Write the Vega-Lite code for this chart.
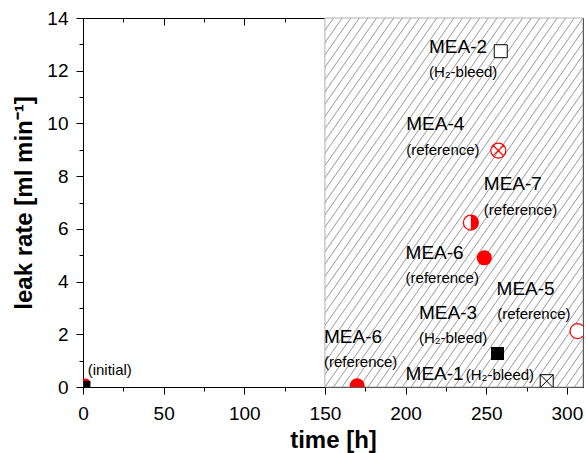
{
  "$schema": "https://vega.github.io/schema/vega-lite/v6.json",
  "width": 500,
  "height": 369,
  "autosize": {"type": "none"},
  "padding": {"left": 83, "top": 18, "right": 3, "bottom": 66},
  "background": "white",
  "config": {
    "view": {"stroke": null},
    "font": "Liberation Sans",
    "axis": {
      "grid": false, "domainColor": "black", "tickColor": "black", "labelColor": "black", "titleColor": "black",
      "labelFont": "Liberation Sans", "titleFont": "Liberation Sans", "labelFontSize": 19, "titleFontSize": 24,
      "titleFontWeight": "bold", "labelFlush": false, "tickWidth": 1, "domainWidth": 1, "zindex": 1, "labelOverlap": false
    }
  },
  "datasets": {
    "points": [
      {"sample": "MEA-6", "phase": "initial", "time": 1.5, "leak": 0.13},
      {"sample": "MEA-3", "phase": "initial", "time": 2.4, "leak": 0.1},
      {"sample": "MEA-6", "phase": "test", "time": 170, "leak": 0.05},
      {"sample": "MEA-1", "phase": "test", "time": 287.5, "leak": 0.22},
      {"sample": "MEA-3", "phase": "test", "time": 257, "leak": 1.27},
      {"sample": "MEA-5", "phase": "test", "time": 306.6, "leak": 2.12},
      {"sample": "MEA-6", "phase": "test", "time": 248.8, "leak": 4.9},
      {"sample": "MEA-7", "phase": "test", "time": 240.5, "leak": 6.24},
      {"sample": "MEA-4", "phase": "test", "time": 257.5, "leak": 8.97},
      {"sample": "MEA-2", "phase": "test", "time": 259, "leak": 12.74}
    ],
    "labels": [
      {"text": "MEA-2", "kind": "name", "time": 214.5, "leak": 12.9},
      {"text": "(H₂-bleed)", "kind": "note", "time": 214.5, "leak": 11.94},
      {"text": "MEA-4", "kind": "name", "time": 200.4, "leak": 9.97},
      {"text": "(reference)", "kind": "note", "time": 200.4, "leak": 9.0},
      {"text": "MEA-7", "kind": "name", "time": 248.5, "leak": 7.72},
      {"text": "(reference)", "kind": "note", "time": 248.5, "leak": 6.7},
      {"text": "MEA-6", "kind": "name", "time": 200, "leak": 5.1},
      {"text": "(reference)", "kind": "note", "time": 200, "leak": 4.14},
      {"text": "MEA-5", "kind": "name", "time": 256.4, "leak": 3.72},
      {"text": "(reference)", "kind": "note", "time": 256.8, "leak": 2.78},
      {"text": "MEA-3", "kind": "name", "time": 208.3, "leak": 2.8},
      {"text": "(H₂-bleed)", "kind": "note", "time": 208.3, "leak": 1.85},
      {"text": "MEA-1", "kind": "name", "time": 200, "leak": 0.48},
      {"text": "(H₂-bleed)", "kind": "note", "time": 237.3, "leak": 0.45},
      {"text": "MEA-6", "kind": "name", "time": 149.4, "leak": 1.89},
      {"text": "(reference)", "kind": "note", "time": 149.4, "leak": 0.96},
      {"text": "(initial)", "kind": "note", "time": 2.9, "leak": 0.64}
    ]
  },
  "layer": [
    {
      "data": {"values": [{"start": 150, "end": 310}]},
      "mark": {
        "type": "rect", "stroke": "#b0b0b0", "strokeWidth": 1,
        "fill": {
          "gradient": "linear", "x1": 0, "y1": 0, "x2": 1, "y2": 1,
          "stops": [
            {"offset": 0, "color": "#ffffff"},
            {"offset": 0.0147, "color": "#ffffff"}, {"offset": 0.0167, "color": "#9a9a9a"}, {"offset": 0.0187, "color": "#ffffff"},
            {"offset": 0.0313, "color": "#ffffff"}, {"offset": 0.0333, "color": "#9a9a9a"}, {"offset": 0.0353, "color": "#ffffff"},
            {"offset": 0.048, "color": "#ffffff"}, {"offset": 0.05, "color": "#9a9a9a"}, {"offset": 0.052, "color": "#ffffff"},
            {"offset": 0.0647, "color": "#ffffff"}, {"offset": 0.0667, "color": "#9a9a9a"}, {"offset": 0.0687, "color": "#ffffff"},
            {"offset": 0.0813, "color": "#ffffff"}, {"offset": 0.0833, "color": "#9a9a9a"}, {"offset": 0.0853, "color": "#ffffff"},
            {"offset": 0.098, "color": "#ffffff"}, {"offset": 0.1, "color": "#9a9a9a"}, {"offset": 0.102, "color": "#ffffff"},
            {"offset": 0.1147, "color": "#ffffff"}, {"offset": 0.1167, "color": "#9a9a9a"}, {"offset": 0.1187, "color": "#ffffff"},
            {"offset": 0.1313, "color": "#ffffff"}, {"offset": 0.1333, "color": "#9a9a9a"}, {"offset": 0.1353, "color": "#ffffff"},
            {"offset": 0.148, "color": "#ffffff"}, {"offset": 0.15, "color": "#9a9a9a"}, {"offset": 0.152, "color": "#ffffff"},
            {"offset": 0.1647, "color": "#ffffff"}, {"offset": 0.1667, "color": "#9a9a9a"}, {"offset": 0.1687, "color": "#ffffff"},
            {"offset": 0.1813, "color": "#ffffff"}, {"offset": 0.1833, "color": "#9a9a9a"}, {"offset": 0.1853, "color": "#ffffff"},
            {"offset": 0.198, "color": "#ffffff"}, {"offset": 0.2, "color": "#9a9a9a"}, {"offset": 0.202, "color": "#ffffff"},
            {"offset": 0.2147, "color": "#ffffff"}, {"offset": 0.2167, "color": "#9a9a9a"}, {"offset": 0.2187, "color": "#ffffff"},
            {"offset": 0.2313, "color": "#ffffff"}, {"offset": 0.2333, "color": "#9a9a9a"}, {"offset": 0.2353, "color": "#ffffff"},
            {"offset": 0.248, "color": "#ffffff"}, {"offset": 0.25, "color": "#9a9a9a"}, {"offset": 0.252, "color": "#ffffff"},
            {"offset": 0.2647, "color": "#ffffff"}, {"offset": 0.2667, "color": "#9a9a9a"}, {"offset": 0.2687, "color": "#ffffff"},
            {"offset": 0.2813, "color": "#ffffff"}, {"offset": 0.2833, "color": "#9a9a9a"}, {"offset": 0.2853, "color": "#ffffff"},
            {"offset": 0.298, "color": "#ffffff"}, {"offset": 0.3, "color": "#9a9a9a"}, {"offset": 0.302, "color": "#ffffff"},
            {"offset": 0.3147, "color": "#ffffff"}, {"offset": 0.3167, "color": "#9a9a9a"}, {"offset": 0.3187, "color": "#ffffff"},
            {"offset": 0.3313, "color": "#ffffff"}, {"offset": 0.3333, "color": "#9a9a9a"}, {"offset": 0.3353, "color": "#ffffff"},
            {"offset": 0.348, "color": "#ffffff"}, {"offset": 0.35, "color": "#9a9a9a"}, {"offset": 0.352, "color": "#ffffff"},
            {"offset": 0.3647, "color": "#ffffff"}, {"offset": 0.3667, "color": "#9a9a9a"}, {"offset": 0.3687, "color": "#ffffff"},
            {"offset": 0.3813, "color": "#ffffff"}, {"offset": 0.3833, "color": "#9a9a9a"}, {"offset": 0.3853, "color": "#ffffff"},
            {"offset": 0.398, "color": "#ffffff"}, {"offset": 0.4, "color": "#9a9a9a"}, {"offset": 0.402, "color": "#ffffff"},
            {"offset": 0.4147, "color": "#ffffff"}, {"offset": 0.4167, "color": "#9a9a9a"}, {"offset": 0.4187, "color": "#ffffff"},
            {"offset": 0.4313, "color": "#ffffff"}, {"offset": 0.4333, "color": "#9a9a9a"}, {"offset": 0.4353, "color": "#ffffff"},
            {"offset": 0.448, "color": "#ffffff"}, {"offset": 0.45, "color": "#9a9a9a"}, {"offset": 0.452, "color": "#ffffff"},
            {"offset": 0.4647, "color": "#ffffff"}, {"offset": 0.4667, "color": "#9a9a9a"}, {"offset": 0.4687, "color": "#ffffff"},
            {"offset": 0.4813, "color": "#ffffff"}, {"offset": 0.4833, "color": "#9a9a9a"}, {"offset": 0.4853, "color": "#ffffff"},
            {"offset": 0.498, "color": "#ffffff"}, {"offset": 0.5, "color": "#9a9a9a"}, {"offset": 0.502, "color": "#ffffff"},
            {"offset": 0.5147, "color": "#ffffff"}, {"offset": 0.5167, "color": "#9a9a9a"}, {"offset": 0.5187, "color": "#ffffff"},
            {"offset": 0.5313, "color": "#ffffff"}, {"offset": 0.5333, "color": "#9a9a9a"}, {"offset": 0.5353, "color": "#ffffff"},
            {"offset": 0.548, "color": "#ffffff"}, {"offset": 0.55, "color": "#9a9a9a"}, {"offset": 0.552, "color": "#ffffff"},
            {"offset": 0.5647, "color": "#ffffff"}, {"offset": 0.5667, "color": "#9a9a9a"}, {"offset": 0.5687, "color": "#ffffff"},
            {"offset": 0.5813, "color": "#ffffff"}, {"offset": 0.5833, "color": "#9a9a9a"}, {"offset": 0.5853, "color": "#ffffff"},
            {"offset": 0.598, "color": "#ffffff"}, {"offset": 0.6, "color": "#9a9a9a"}, {"offset": 0.602, "color": "#ffffff"},
            {"offset": 0.6147, "color": "#ffffff"}, {"offset": 0.6167, "color": "#9a9a9a"}, {"offset": 0.6187, "color": "#ffffff"},
            {"offset": 0.6313, "color": "#ffffff"}, {"offset": 0.6333, "color": "#9a9a9a"}, {"offset": 0.6353, "color": "#ffffff"},
            {"offset": 0.648, "color": "#ffffff"}, {"offset": 0.65, "color": "#9a9a9a"}, {"offset": 0.652, "color": "#ffffff"},
            {"offset": 0.6647, "color": "#ffffff"}, {"offset": 0.6667, "color": "#9a9a9a"}, {"offset": 0.6687, "color": "#ffffff"},
            {"offset": 0.6813, "color": "#ffffff"}, {"offset": 0.6833, "color": "#9a9a9a"}, {"offset": 0.6853, "color": "#ffffff"},
            {"offset": 0.698, "color": "#ffffff"}, {"offset": 0.7, "color": "#9a9a9a"}, {"offset": 0.702, "color": "#ffffff"},
            {"offset": 0.7147, "color": "#ffffff"}, {"offset": 0.7167, "color": "#9a9a9a"}, {"offset": 0.7187, "color": "#ffffff"},
            {"offset": 0.7313, "color": "#ffffff"}, {"offset": 0.7333, "color": "#9a9a9a"}, {"offset": 0.7353, "color": "#ffffff"},
            {"offset": 0.748, "color": "#ffffff"}, {"offset": 0.75, "color": "#9a9a9a"}, {"offset": 0.752, "color": "#ffffff"},
            {"offset": 0.7647, "color": "#ffffff"}, {"offset": 0.7667, "color": "#9a9a9a"}, {"offset": 0.7687, "color": "#ffffff"},
            {"offset": 0.7813, "color": "#ffffff"}, {"offset": 0.7833, "color": "#9a9a9a"}, {"offset": 0.7853, "color": "#ffffff"},
            {"offset": 0.798, "color": "#ffffff"}, {"offset": 0.8, "color": "#9a9a9a"}, {"offset": 0.802, "color": "#ffffff"},
            {"offset": 0.8147, "color": "#ffffff"}, {"offset": 0.8167, "color": "#9a9a9a"}, {"offset": 0.8187, "color": "#ffffff"},
            {"offset": 0.8313, "color": "#ffffff"}, {"offset": 0.8333, "color": "#9a9a9a"}, {"offset": 0.8353, "color": "#ffffff"},
            {"offset": 0.848, "color": "#ffffff"}, {"offset": 0.85, "color": "#9a9a9a"}, {"offset": 0.852, "color": "#ffffff"},
            {"offset": 0.8647, "color": "#ffffff"}, {"offset": 0.8667, "color": "#9a9a9a"}, {"offset": 0.8687, "color": "#ffffff"},
            {"offset": 0.8813, "color": "#ffffff"}, {"offset": 0.8833, "color": "#9a9a9a"}, {"offset": 0.8853, "color": "#ffffff"},
            {"offset": 0.898, "color": "#ffffff"}, {"offset": 0.9, "color": "#9a9a9a"}, {"offset": 0.902, "color": "#ffffff"},
            {"offset": 0.9147, "color": "#ffffff"}, {"offset": 0.9167, "color": "#9a9a9a"}, {"offset": 0.9187, "color": "#ffffff"},
            {"offset": 0.9313, "color": "#ffffff"}, {"offset": 0.9333, "color": "#9a9a9a"}, {"offset": 0.9353, "color": "#ffffff"},
            {"offset": 0.948, "color": "#ffffff"}, {"offset": 0.95, "color": "#9a9a9a"}, {"offset": 0.952, "color": "#ffffff"},
            {"offset": 0.9647, "color": "#ffffff"}, {"offset": 0.9667, "color": "#9a9a9a"}, {"offset": 0.9687, "color": "#ffffff"},
            {"offset": 0.9813, "color": "#ffffff"}, {"offset": 0.9833, "color": "#9a9a9a"}, {"offset": 0.9853, "color": "#ffffff"},
            {"offset": 1, "color": "#ffffff"}
          ]
        }
      },
      "encoding": {
        "x": {"field": "start", "type": "quantitative", "scale": {"domain": [0, 310], "nice": false, "zero": false}, "axis": null},
        "x2": {"field": "end"},
        "y": {"datum": 0, "type": "quantitative", "scale": {"domain": [0, 14], "nice": false}, "axis": null},
        "y2": {"datum": 14}
      }
    },
    {
      "data": {"name": "points"},
      "transform": [{"filter": "datum.sample === 'MEA-6' && datum.phase !== 'initial'"}],
      "mark": {"type": "point", "shape": "circle", "filled": true, "color": "#ff0000", "size": 225, "opacity": 1, "clip": true},
      "encoding": {
        "x": {
          "field": "time", "type": "quantitative", "scale": {"domain": [0, 310], "nice": false, "zero": false},
          "axis": {
            "orient": "bottom", "title": "time [h]", "format": "d",
            "values": [0, 25, 50, 75, 100, 125, 150, 175, 200, 225, 250, 275, 300],
            "labelExpr": "datum.value % 50 === 0 ? datum.label : ''",
            "tickSize": {"condition": {"test": "datum.value % 50 === 0", "value": 7}, "value": 4},
            "labelPadding": 10, "titlePadding": 5
          }
        },
        "y": {
          "field": "leak", "type": "quantitative", "scale": {"domain": [0, 14], "nice": false},
          "axis": {
            "orient": "left", "title": "leak rate [ml min⁻¹]", "format": "d",
            "values": [0, 0.5, 1, 1.5, 2, 2.5, 3, 3.5, 4, 4.5, 5, 5.5, 6, 6.5, 7, 7.5, 8, 8.5, 9, 9.5, 10, 10.5, 11, 11.5, 12, 12.5, 13, 13.5, 14],
            "labelExpr": "datum.value % 2 === 0 ? datum.label : ''",
            "tickSize": {"condition": {"test": "datum.value % 2 === 0", "value": 7}, "value": 4},
            "labelPadding": 8, "titlePadding": 10
          }
        }
      }
    },
    {
      "data": {"name": "points"},
      "transform": [{"filter": "datum.sample === 'MEA-5' || datum.sample === 'MEA-7'"}],
      "mark": {"type": "point", "shape": "circle", "filled": true, "fill": "#ffffff", "stroke": "#ff0000", "strokeWidth": 1.2, "size": 225, "opacity": 1, "clip": true},
      "encoding": {
        "x": {"field": "time", "type": "quantitative", "scale": {"domain": [0, 310], "nice": false, "zero": false}, "axis": null},
        "y": {"field": "leak", "type": "quantitative", "scale": {"domain": [0, 14], "nice": false}, "axis": null}
      }
    },
    {
      "data": {"name": "points"},
      "transform": [{"filter": "datum.sample === 'MEA-7'"}],
      "mark": {"type": "point", "shape": "M0,-1A1,1 0 0 1 0,1Z", "filled": true, "color": "#ff0000", "size": 225, "opacity": 1, "clip": true},
      "encoding": {
        "x": {"field": "time", "type": "quantitative", "scale": {"domain": [0, 310], "nice": false, "zero": false}, "axis": null},
        "y": {"field": "leak", "type": "quantitative", "scale": {"domain": [0, 14], "nice": false}, "axis": null}
      }
    },
    {
      "data": {"name": "points"},
      "transform": [{"filter": "datum.sample === 'MEA-4'"}],
      "mark": {"type": "point", "shape": "M-1,0A1,1 0 1 1 1,0A1,1 0 1 1 -1,0M-0.7071,-0.7071L0.7071,0.7071M-0.7071,0.7071L0.7071,-0.7071", "filled": false, "color": "#ff0000", "strokeWidth": 1.2, "size": 225, "opacity": 1, "clip": true},
      "encoding": {
        "x": {"field": "time", "type": "quantitative", "scale": {"domain": [0, 310], "nice": false, "zero": false}, "axis": null},
        "y": {"field": "leak", "type": "quantitative", "scale": {"domain": [0, 14], "nice": false}, "axis": null}
      }
    },
    {
      "data": {"name": "points"},
      "transform": [{"filter": "datum.sample === 'MEA-3' && datum.phase !== 'initial'"}],
      "mark": {"type": "point", "shape": "square", "filled": true, "color": "#000000", "size": 169, "opacity": 1, "clip": true},
      "encoding": {
        "x": {
          "field": "time", "type": "quantitative", "scale": {"domain": [0, 310], "nice": false, "zero": false},
          "axis": {
            "orient": "top", "title": null, "labels": false,
            "values": [0, 25, 50, 75, 100, 125, 150, 175, 200, 225, 250, 275, 300],
            "tickSize": {"condition": {"test": "datum.value % 50 === 0", "value": -7}, "value": -4}
          }
        },
        "y": {
          "field": "leak", "type": "quantitative", "scale": {"domain": [0, 14], "nice": false},
          "axis": {
            "orient": "right", "title": null, "labels": false,
            "values": [0, 0.5, 1, 1.5, 2, 2.5, 3, 3.5, 4, 4.5, 5, 5.5, 6, 6.5, 7, 7.5, 8, 8.5, 9, 9.5, 10, 10.5, 11, 11.5, 12, 12.5, 13, 13.5, 14],
            "tickSize": {"condition": {"test": "datum.value % 2 === 0", "value": -7}, "value": -4}
          }
        }
      }
    },
    {
      "data": {"name": "points"},
      "transform": [{"filter": "datum.sample === 'MEA-2'"}],
      "mark": {"type": "point", "shape": "square", "filled": true, "fill": "#ffffff", "stroke": "#000000", "strokeWidth": 1, "size": 169, "opacity": 1, "clip": true},
      "encoding": {
        "x": {"field": "time", "type": "quantitative", "scale": {"domain": [0, 310], "nice": false, "zero": false}, "axis": null},
        "y": {"field": "leak", "type": "quantitative", "scale": {"domain": [0, 14], "nice": false}, "axis": null}
      }
    },
    {
      "data": {"name": "points"},
      "transform": [{"filter": "datum.sample === 'MEA-1'"}],
      "mark": {"type": "point", "shape": "M-1,-1H1V1H-1ZM-1,-1L1,1M-1,1L1,-1", "filled": true, "fill": "#ffffff", "stroke": "#000000", "strokeWidth": 1, "size": 169, "opacity": 1, "clip": true},
      "encoding": {
        "x": {"field": "time", "type": "quantitative", "scale": {"domain": [0, 310], "nice": false, "zero": false}, "axis": null},
        "y": {"field": "leak", "type": "quantitative", "scale": {"domain": [0, 14], "nice": false}, "axis": null}
      }
    },
    {
      "data": {"name": "points"},
      "transform": [{"filter": "datum.sample === 'MEA-6' && datum.phase === 'initial'"}],
      "mark": {"type": "point", "shape": "circle", "filled": true, "color": "#ff0000", "size": 100, "opacity": 1, "clip": true},
      "encoding": {
        "x": {"field": "time", "type": "quantitative", "scale": {"domain": [0, 310], "nice": false, "zero": false}, "axis": null},
        "y": {"field": "leak", "type": "quantitative", "scale": {"domain": [0, 14], "nice": false}, "axis": null}
      }
    },
    {
      "data": {"name": "points"},
      "transform": [{"filter": "datum.sample === 'MEA-3' && datum.phase === 'initial'"}],
      "mark": {"type": "point", "shape": "square", "filled": true, "color": "#000000", "size": 49, "opacity": 1, "clip": true},
      "encoding": {
        "x": {"field": "time", "type": "quantitative", "scale": {"domain": [0, 310], "nice": false, "zero": false}, "axis": null},
        "y": {"field": "leak", "type": "quantitative", "scale": {"domain": [0, 14], "nice": false}, "axis": null}
      }
    },
    {
      "data": {"name": "labels"},
      "transform": [{"filter": "datum.kind === 'name'"}],
      "mark": {"type": "text", "align": "left", "baseline": "middle", "font": "Liberation Sans", "fontSize": 19, "color": "#000000"},
      "encoding": {
        "x": {"field": "time", "type": "quantitative", "scale": {"domain": [0, 310], "nice": false, "zero": false}, "axis": null},
        "y": {"field": "leak", "type": "quantitative", "scale": {"domain": [0, 14], "nice": false}, "axis": null},
        "text": {"field": "text"}
      }
    },
    {
      "data": {"name": "labels"},
      "transform": [{"filter": "datum.kind === 'note'"}],
      "mark": {"type": "text", "align": "left", "baseline": "middle", "font": "Liberation Sans", "fontSize": 15, "color": "#000000"},
      "encoding": {
        "x": {"field": "time", "type": "quantitative", "scale": {"domain": [0, 310], "nice": false, "zero": false}, "axis": null},
        "y": {"field": "leak", "type": "quantitative", "scale": {"domain": [0, 14], "nice": false}, "axis": null},
        "text": {"field": "text"}
      }
    }
  ],
  "resolve": {"axis": {"x": "independent", "y": "independent"}}
}
